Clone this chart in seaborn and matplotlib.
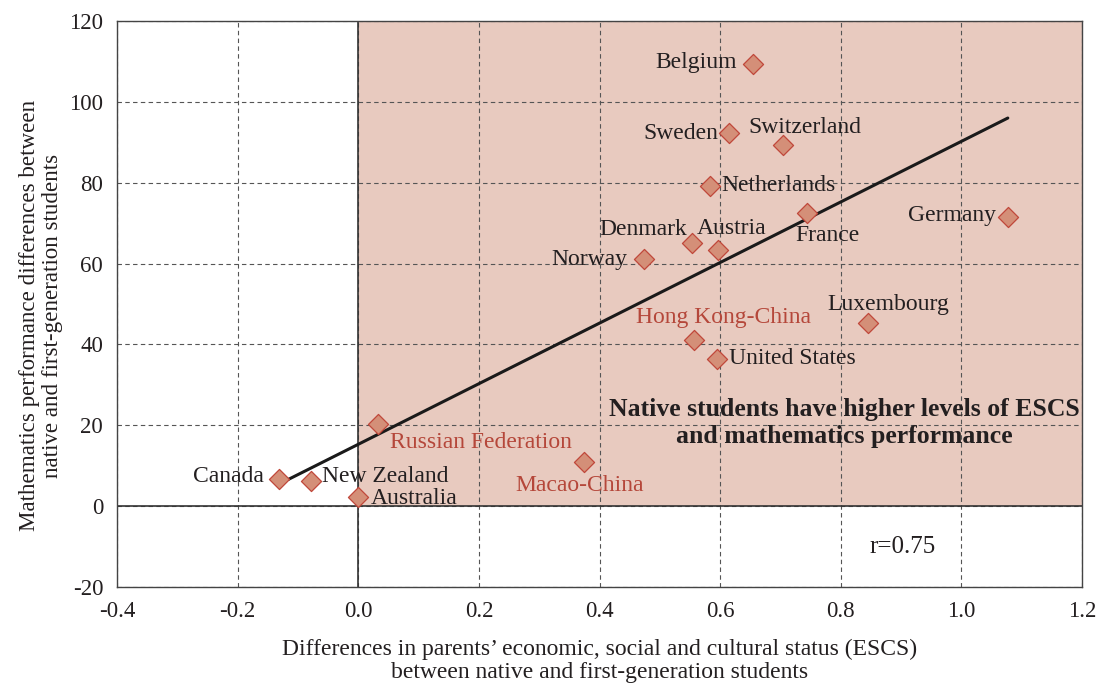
import matplotlib
matplotlib.use("Agg")
import matplotlib.pyplot as plt
import seaborn as sns
import pandas as pd

# countries and values
countries = ["Canada", "New Zealand", "Australia", "Russian Federation", "Macao-China",
             "Hong Kong-China", "United States", "Luxembourg", "Norway", "Denmark",
             "Austria", "Netherlands", "Sweden", "Switzerland", "Belgium", "France",
             "Germany"]
escs_diff = [-0.131, -0.078, 0.000, 0.032, 0.374,
             0.556, 0.595, 0.846, 0.474, 0.554,
             0.596, 0.583, 0.615, 0.705, 0.654, 0.744,
             1.078]
math_diff = [6.8, 6.1, 2.3, 20.3, 10.9,
             41.1, 36.5, 45.2, 61.2, 65.1,
             63.3, 79.2, 92.2, 89.3, 109.3, 72.4,
             71.6]
partners = ["Russian Federation", "Macao-China", "Hong Kong-China"]

# fitted line end points
fit_x = [-0.116, 1.077]
fit_y = [6.6, 96.0]
r_text = "r=0.75"

x_ticks = [-0.4, -0.2, 0.0, 0.2, 0.4, 0.6, 0.8, 1.0, 1.2]
y_ticks = [-20, 0, 20, 40, 60, 80, 100, 120]

df = pd.DataFrame({"country": countries, "escs": escs_diff, "math": math_diff})

# label placement: dx, dy in pixels, alignment
label_pos = {
    "Belgium": (-16, 2, "right"),
    "Sweden": (-11, 0, "right"),
    "Switzerland": (21, 18, "center"),
    "Netherlands": (11, 0, "left"),
    "Denmark": (-5, 13, "right"),
    "Austria": (14, 22, "center"),
    "Norway": (-17, -1, "right"),
    "France": (21, -22, "center"),
    "Germany": (-12, 1, "right"),
    "Luxembourg": (20, 19, "center"),
    "Hong Kong-China": (30, 22, "center"),
    "United States": (12, 0, "left"),
    "Russian Federation": (12, -18, "left"),
    "Macao-China": (-4, -23, "center"),
    "Canada": (-15, 2, "right"),
    "New Zealand": (11, 5, "left"),
    "Australia": (13, -2, "left"),
}

sns.set_theme(style="white")
plt.rcParams["font.family"] = ["Liberation Serif", "DejaVu Serif"]

dark = "#231f20"
red = "#b5473a"
fs = 17

fig = plt.figure(figsize=(11.06, 6.87), dpi=100)
ax = fig.add_axes([0.1058, 0.1456, 0.8725, 0.8238])

# shaded quadrant
ax.fill_between([0, 1.2], 0, 120, color="#e8cabf", lw=0, zorder=0)

ax.set_xlim(-0.4, 1.2)
ax.set_ylim(-20, 120)
ax.set_xticks(x_ticks)
ax.set_yticks(y_ticks)
ax.set_xticklabels([f"{v:.1f}" for v in x_ticks])
ax.set_yticklabels([str(v) for v in y_ticks])
ax.grid(True, color="#555555", linestyle=(0, (4, 3)), linewidth=0.8)
ax.set_axisbelow(True)
ax.tick_params(length=0, pad=10, labelsize=16.5, colors=dark)
for s in ax.spines.values():
    s.set_color("#444444")
    s.set_linewidth(1)

ax.axhline(0, color="#333333", lw=1.2, zorder=1)
ax.axvline(0, color="#333333", lw=1.2, zorder=1)

sns.lineplot(x=fit_x, y=fit_y, ax=ax, color="#1a1a1a", lw=2.2, zorder=3)
sns.scatterplot(data=df, x="escs", y="math", ax=ax, marker="D", s=105,
                color="#d48f78", edgecolor="#c0473a", linewidth=0.9, zorder=4)

for c, x, y in zip(countries, escs_diff, math_diff):
    dx, dy, ha = label_pos[c]
    ax.annotate(c, (x, y), xytext=(dx, dy), textcoords="offset pixels",
                ha=ha, va="center", fontsize=fs,
                color=red if c in partners else dark, zorder=5)

ax.text(0.806, 20.6, "Native students have higher levels of ESCS\nand mathematics performance",
        ha="center", va="center", multialignment="center", fontsize=18.5,
        fontweight="bold", color=dark, linespacing=1.2, zorder=5)
ax.text(0.902, -10, r_text, ha="center", va="center", fontsize=18, color=dark)

ax.set_xlabel("Differences in parents\u2019 economic, social and cultural status (ESCS)\n"
              "between native and first-generation students",
              fontsize=fs, color=dark, linespacing=1.1)
ax.set_ylabel("Mathematics performance differences between\n"
              "native and first-generation students",
              fontsize=16.6, color=dark, linespacing=1.15)
ax.xaxis.set_label_coords(0.5, -0.092)
ax.yaxis.set_label_coords(-0.056, 0.479)

fig.savefig("out.png", dpi=100)
